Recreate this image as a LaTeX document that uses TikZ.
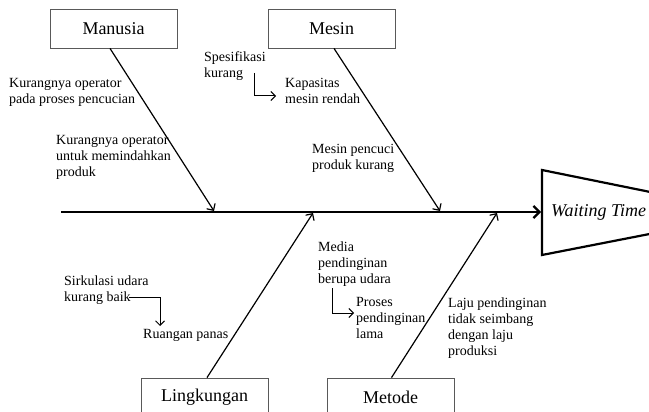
\documentclass[tikz,border=0pt]{standalone}
\usepackage{fontspec}
\setmainfont{Liberation Serif}
\usetikzlibrary{arrows.meta,calc}
\begin{document}
\begin{tikzpicture}[x=1pt,y=-1pt,
  cat/.style={draw=black!65, line width=0.8pt, minimum width=127pt, minimum height=39pt, inner sep=0pt, font=\fontsize{18}{21}\selectfont},
  lbl/.style={anchor=north west, inner sep=0pt, align=left, font=\fontsize{14}{16}\selectfont},
  bone/.style={line width=1.2pt, -{Straight Barb[length=5pt,width=10pt]}},
  spine/.style={line width=2.2pt, -{Straight Barb[length=6pt,width=12pt]}},
  elbow/.style={line width=1pt, -{Straight Barb[length=4.5pt,width=9pt]}}
]
\useasboundingbox (0,0) rectangle (649,412);
% category boxes
\node[cat] (man) at (113.5,28.5) {Manusia};
\node[cat] (mes) at (331.5,28.5) {Mesin};
\node[cat] (lin) at (204.5,397.5) {Lingkungan};
\node[cat] (met) at (390.5,397.5) {Metode};
% spine and head
\coordinate (s0) at (61,212);
\coordinate (s1) at (541,212);
\draw[spine] (s0) -- (s1);
\coordinate (t1) at (542,170);
\coordinate (t2) at (670,196);
\coordinate (t3) at (670,230);
\coordinate (t4) at (542,255);
\draw[line width=2.2pt, line join=miter] (t1) -- (t2) -- (t3) -- (t4) -- cycle;
\node[font=\itshape\fontsize{18}{21}\selectfont, anchor=west, inner sep=0pt] (wt) at (551,212) {Waiting Time};
% bones
\coordinate (e1) at (214,211);
\coordinate (e2) at (440,211);
\coordinate (e3) at (313,213);
\coordinate (e4) at (497,213);
\draw[bone] ($(man.south)+(-3.5,0)$) -- (e1);
\draw[bone] ($(mes.south)+(2.5,0)$) -- (e2);
\draw[bone] ($(lin.north)+(2.5,0)$) -- (e3);
\draw[bone] ($(met.north)+(1,0)$) -- (e4);
% labels
\node[lbl] (l1) at (9,78) {Kurangnya operator\\pada proses pencucian};
\node[lbl] (l2) at (56,135) {Kurangnya operator\\untuk memindahkan\\produk};
\node[lbl] (l3) at (204,51) {Spesifikasi\\kurang};
\node[lbl] (l4) at (285,78) {Kapasitas\\mesin rendah};
\node[lbl] (l5) at (312,144.5) {Mesin pencuci\\produk kurang};
\node[lbl] (l6) at (64,275.5) {Sirkulasi udara\\kurang baik};
\node[lbl] (l7) at (143,329.5) {Ruangan panas};
\node[lbl] (l8) at (318,241.5) {Media\\pendinginan\\berupa udara};
\node[lbl] (l9) at (356,297.5) {Proses\\pendinginan\\lama};
\node[lbl] (l10) at (448,297.5) {Laju pendinginan\\tidak seimbang\\dengan laju\\produksi};
% sub-cause arrows
\coordinate (a1) at (254,73);
\coordinate (a2) at (276,96);
\draw[elbow] (a1) |- (a2);
\coordinate (b1) at (129,297);
\coordinate (b2) at (160,326);
\draw[elbow] (b1) -| (b2);
\coordinate (c1) at (332,288);
\coordinate (c2) at (354,313);
\draw[elbow] (c1) |- (c2);
\end{tikzpicture}
\end{document}
